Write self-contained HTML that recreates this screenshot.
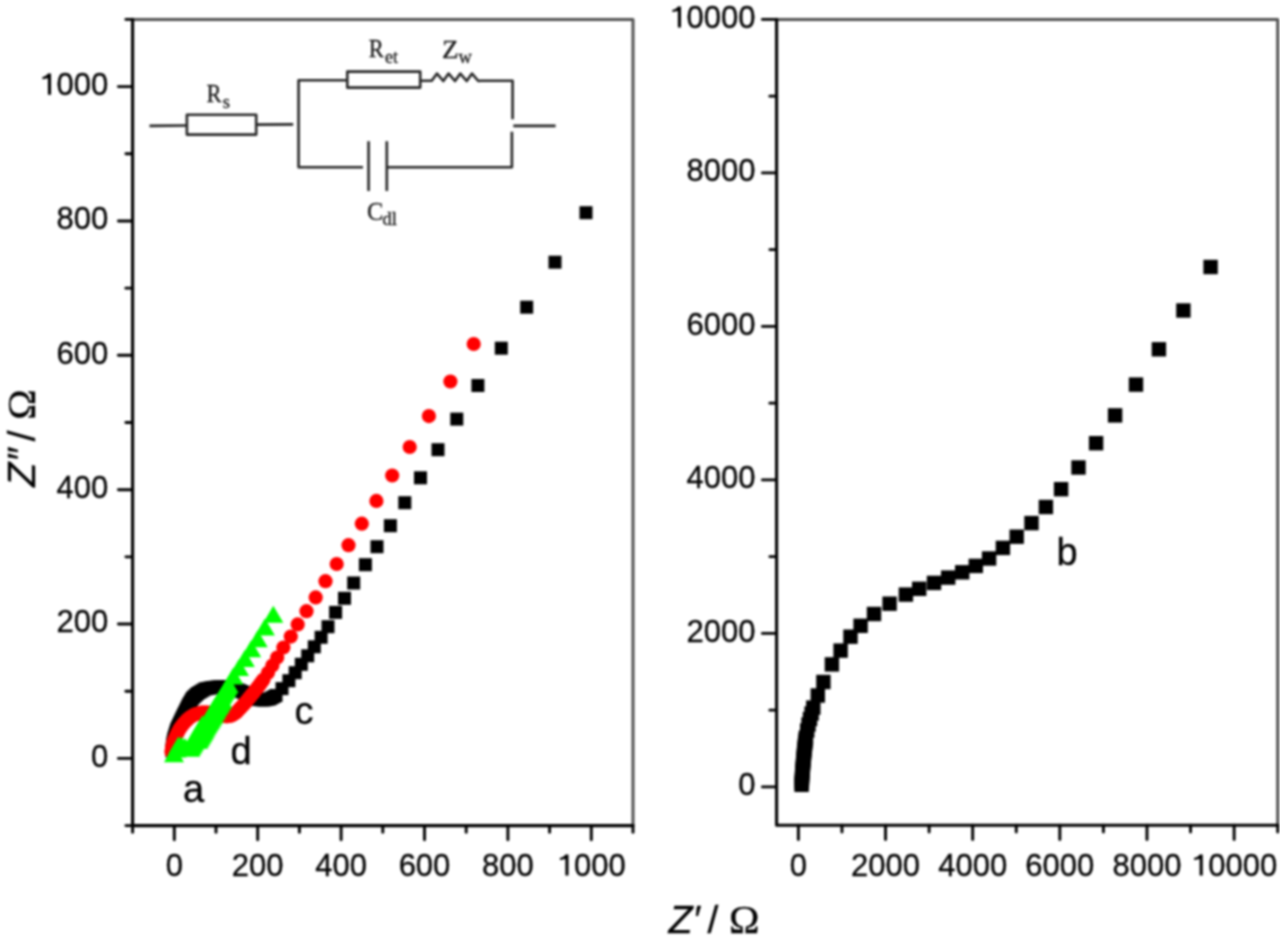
<!DOCTYPE html>
<html><head><meta charset="utf-8"><style>
html,body{margin:0;padding:0;background:#fff;width:1280px;height:944px;overflow:hidden}
svg{display:block;filter:blur(0.8px)}
text{fill:#000;stroke:#000;stroke-width:0.3px}
text.c{fill:#181818;stroke:#181818;stroke-width:0.3px}
</style></head><body>
<svg width="1280" height="944" viewBox="0 0 1280 944">
<rect width="1280" height="944" fill="#fff"/>
<g id="blackL">
<rect x="165.50" y="744.50" width="13.00" height="13.00" fill="#000"/>
<rect x="165.67" y="742.50" width="13.00" height="13.00" fill="#000"/>
<rect x="165.83" y="740.50" width="13.00" height="13.00" fill="#000"/>
<rect x="166.00" y="738.50" width="13.00" height="13.00" fill="#000"/>
<rect x="166.43" y="736.43" width="13.00" height="13.00" fill="#000"/>
<rect x="166.87" y="734.37" width="13.00" height="13.00" fill="#000"/>
<rect x="167.30" y="732.30" width="13.00" height="13.00" fill="#000"/>
<rect x="167.90" y="730.36" width="13.00" height="13.00" fill="#000"/>
<rect x="168.50" y="728.42" width="13.00" height="13.00" fill="#000"/>
<rect x="169.10" y="726.48" width="13.00" height="13.00" fill="#000"/>
<rect x="169.70" y="724.54" width="13.00" height="13.00" fill="#000"/>
<rect x="170.30" y="722.60" width="13.00" height="13.00" fill="#000"/>
<rect x="171.18" y="720.75" width="13.00" height="13.00" fill="#000"/>
<rect x="172.05" y="718.90" width="13.00" height="13.00" fill="#000"/>
<rect x="172.93" y="717.05" width="13.00" height="13.00" fill="#000"/>
<rect x="173.80" y="715.20" width="13.00" height="13.00" fill="#000"/>
<rect x="174.62" y="713.50" width="13.00" height="13.00" fill="#000"/>
<rect x="175.44" y="711.80" width="13.00" height="13.00" fill="#000"/>
<rect x="176.26" y="710.10" width="13.00" height="13.00" fill="#000"/>
<rect x="177.08" y="708.40" width="13.00" height="13.00" fill="#000"/>
<rect x="177.90" y="706.70" width="13.00" height="13.00" fill="#000"/>
<rect x="178.88" y="704.70" width="13.00" height="13.00" fill="#000"/>
<rect x="179.85" y="702.70" width="13.00" height="13.00" fill="#000"/>
<rect x="180.83" y="700.70" width="13.00" height="13.00" fill="#000"/>
<rect x="181.80" y="698.70" width="13.00" height="13.00" fill="#000"/>
<rect x="182.83" y="696.98" width="13.00" height="13.00" fill="#000"/>
<rect x="183.85" y="695.25" width="13.00" height="13.00" fill="#000"/>
<rect x="184.88" y="693.52" width="13.00" height="13.00" fill="#000"/>
<rect x="185.90" y="691.80" width="13.00" height="13.00" fill="#000"/>
<rect x="187.18" y="690.60" width="13.00" height="13.00" fill="#000"/>
<rect x="188.45" y="689.40" width="13.00" height="13.00" fill="#000"/>
<rect x="189.72" y="688.20" width="13.00" height="13.00" fill="#000"/>
<rect x="191.00" y="687.00" width="13.00" height="13.00" fill="#000"/>
<rect x="192.88" y="685.88" width="13.00" height="13.00" fill="#000"/>
<rect x="194.75" y="684.75" width="13.00" height="13.00" fill="#000"/>
<rect x="196.62" y="683.62" width="13.00" height="13.00" fill="#000"/>
<rect x="198.50" y="682.50" width="13.00" height="13.00" fill="#000"/>
<rect x="200.38" y="682.12" width="13.00" height="13.00" fill="#000"/>
<rect x="202.25" y="681.75" width="13.00" height="13.00" fill="#000"/>
<rect x="204.12" y="681.38" width="13.00" height="13.00" fill="#000"/>
<rect x="206.00" y="681.00" width="13.00" height="13.00" fill="#000"/>
<rect x="207.88" y="680.83" width="13.00" height="13.00" fill="#000"/>
<rect x="209.75" y="680.65" width="13.00" height="13.00" fill="#000"/>
<rect x="211.62" y="680.47" width="13.00" height="13.00" fill="#000"/>
<rect x="213.50" y="680.30" width="13.00" height="13.00" fill="#000"/>
<rect x="215.50" y="680.37" width="13.00" height="13.00" fill="#000"/>
<rect x="217.50" y="680.43" width="13.00" height="13.00" fill="#000"/>
<rect x="219.50" y="680.50" width="13.00" height="13.00" fill="#000"/>
<rect x="221.17" y="680.83" width="13.00" height="13.00" fill="#000"/>
<rect x="222.83" y="681.17" width="13.00" height="13.00" fill="#000"/>
<rect x="224.50" y="681.50" width="13.00" height="13.00" fill="#000"/>
<rect x="226.25" y="682.00" width="13.00" height="13.00" fill="#000"/>
<rect x="228.00" y="682.50" width="13.00" height="13.00" fill="#000"/>
<rect x="229.75" y="683.00" width="13.00" height="13.00" fill="#000"/>
<rect x="231.50" y="683.50" width="13.00" height="13.00" fill="#000"/>
<rect x="233.25" y="684.25" width="13.00" height="13.00" fill="#000"/>
<rect x="235.00" y="685.00" width="13.00" height="13.00" fill="#000"/>
<rect x="236.75" y="685.75" width="13.00" height="13.00" fill="#000"/>
<rect x="238.50" y="686.50" width="13.00" height="13.00" fill="#000"/>
<rect x="240.25" y="687.50" width="13.00" height="13.00" fill="#000"/>
<rect x="242.00" y="688.50" width="13.00" height="13.00" fill="#000"/>
<rect x="243.75" y="689.50" width="13.00" height="13.00" fill="#000"/>
<rect x="245.50" y="690.50" width="13.00" height="13.00" fill="#000"/>
<rect x="247.50" y="691.33" width="13.00" height="13.00" fill="#000"/>
<rect x="249.50" y="692.17" width="13.00" height="13.00" fill="#000"/>
<rect x="251.50" y="693.00" width="13.00" height="13.00" fill="#000"/>
<rect x="253.50" y="693.17" width="13.00" height="13.00" fill="#000"/>
<rect x="255.50" y="693.33" width="13.00" height="13.00" fill="#000"/>
<rect x="257.50" y="693.50" width="13.00" height="13.00" fill="#000"/>
<rect x="259.50" y="693.10" width="13.00" height="13.00" fill="#000"/>
<rect x="261.50" y="692.70" width="13.00" height="13.00" fill="#000"/>
<rect x="263.50" y="692.30" width="13.00" height="13.00" fill="#000"/>
<rect x="265.50" y="691.20" width="13.00" height="13.00" fill="#000"/>
<rect x="267.50" y="690.10" width="13.00" height="13.00" fill="#000"/>
<rect x="269.50" y="689.00" width="13.00" height="13.00" fill="#000"/>
<rect x="275.50" y="682.10" width="13.00" height="13.00" fill="#000"/>
<rect x="282.40" y="674.20" width="13.00" height="13.00" fill="#000"/>
<rect x="288.70" y="666.20" width="13.00" height="13.00" fill="#000"/>
<rect x="294.80" y="657.80" width="13.00" height="13.00" fill="#000"/>
<rect x="301.20" y="649.30" width="13.00" height="13.00" fill="#000"/>
<rect x="307.80" y="640.30" width="13.00" height="13.00" fill="#000"/>
<rect x="314.60" y="630.80" width="13.00" height="13.00" fill="#000"/>
<rect x="321.50" y="620.20" width="13.00" height="13.00" fill="#000"/>
<rect x="329.10" y="605.90" width="13.00" height="13.00" fill="#000"/>
<rect x="338.00" y="591.80" width="13.00" height="13.00" fill="#000"/>
<rect x="347.20" y="576.50" width="13.00" height="13.00" fill="#000"/>
<rect x="358.90" y="558.20" width="13.00" height="13.00" fill="#000"/>
<rect x="370.50" y="540.20" width="13.00" height="13.00" fill="#000"/>
<rect x="383.90" y="519.20" width="13.00" height="13.00" fill="#000"/>
<rect x="398.30" y="496.20" width="13.00" height="13.00" fill="#000"/>
<rect x="414.00" y="471.30" width="13.00" height="13.00" fill="#000"/>
<rect x="431.50" y="443.20" width="13.00" height="13.00" fill="#000"/>
<rect x="450.30" y="412.60" width="13.00" height="13.00" fill="#000"/>
<rect x="471.40" y="379.00" width="13.00" height="13.00" fill="#000"/>
<rect x="494.80" y="341.70" width="13.00" height="13.00" fill="#000"/>
<rect x="520.20" y="300.70" width="13.00" height="13.00" fill="#000"/>
<rect x="548.50" y="255.70" width="13.00" height="13.00" fill="#000"/>
<rect x="579.50" y="206.20" width="13.00" height="13.00" fill="#000"/>
</g>
<g id="red">
<circle cx="171.50" cy="752.00" r="7.10" fill="#f00"/>
<circle cx="171.75" cy="750.50" r="7.10" fill="#f00"/>
<circle cx="172.00" cy="749.00" r="7.10" fill="#f00"/>
<circle cx="172.33" cy="747.00" r="7.10" fill="#f00"/>
<circle cx="172.67" cy="745.00" r="7.10" fill="#f00"/>
<circle cx="173.00" cy="743.00" r="7.10" fill="#f00"/>
<circle cx="173.75" cy="741.25" r="7.10" fill="#f00"/>
<circle cx="174.50" cy="739.50" r="7.10" fill="#f00"/>
<circle cx="175.25" cy="737.75" r="7.10" fill="#f00"/>
<circle cx="176.00" cy="736.00" r="7.10" fill="#f00"/>
<circle cx="176.88" cy="734.25" r="7.10" fill="#f00"/>
<circle cx="177.75" cy="732.50" r="7.10" fill="#f00"/>
<circle cx="178.62" cy="730.75" r="7.10" fill="#f00"/>
<circle cx="179.50" cy="729.00" r="7.10" fill="#f00"/>
<circle cx="180.62" cy="727.50" r="7.10" fill="#f00"/>
<circle cx="181.75" cy="726.00" r="7.10" fill="#f00"/>
<circle cx="182.88" cy="724.50" r="7.10" fill="#f00"/>
<circle cx="184.00" cy="723.00" r="7.10" fill="#f00"/>
<circle cx="185.25" cy="721.75" r="7.10" fill="#f00"/>
<circle cx="186.50" cy="720.50" r="7.10" fill="#f00"/>
<circle cx="187.75" cy="719.25" r="7.10" fill="#f00"/>
<circle cx="189.00" cy="718.00" r="7.10" fill="#f00"/>
<circle cx="190.83" cy="716.83" r="7.10" fill="#f00"/>
<circle cx="192.67" cy="715.67" r="7.10" fill="#f00"/>
<circle cx="194.50" cy="714.50" r="7.10" fill="#f00"/>
<circle cx="196.67" cy="713.90" r="7.10" fill="#f00"/>
<circle cx="198.83" cy="713.30" r="7.10" fill="#f00"/>
<circle cx="201.00" cy="712.70" r="7.10" fill="#f00"/>
<circle cx="202.75" cy="712.65" r="7.10" fill="#f00"/>
<circle cx="204.50" cy="712.60" r="7.10" fill="#f00"/>
<circle cx="206.25" cy="712.55" r="7.10" fill="#f00"/>
<circle cx="208.00" cy="712.50" r="7.10" fill="#f00"/>
<circle cx="209.75" cy="712.75" r="7.10" fill="#f00"/>
<circle cx="211.50" cy="713.00" r="7.10" fill="#f00"/>
<circle cx="213.25" cy="713.25" r="7.10" fill="#f00"/>
<circle cx="215.00" cy="713.50" r="7.10" fill="#f00"/>
<circle cx="217.00" cy="714.17" r="7.10" fill="#f00"/>
<circle cx="219.00" cy="714.83" r="7.10" fill="#f00"/>
<circle cx="221.00" cy="715.50" r="7.10" fill="#f00"/>
<circle cx="223.00" cy="715.77" r="7.10" fill="#f00"/>
<circle cx="225.00" cy="716.03" r="7.10" fill="#f00"/>
<circle cx="227.00" cy="716.30" r="7.10" fill="#f00"/>
<circle cx="228.67" cy="715.97" r="7.10" fill="#f00"/>
<circle cx="230.33" cy="715.63" r="7.10" fill="#f00"/>
<circle cx="232.00" cy="715.30" r="7.10" fill="#f00"/>
<circle cx="233.50" cy="714.30" r="7.10" fill="#f00"/>
<circle cx="235.00" cy="713.30" r="7.10" fill="#f00"/>
<circle cx="236.50" cy="712.30" r="7.10" fill="#f00"/>
<circle cx="238.00" cy="710.70" r="7.10" fill="#f00"/>
<circle cx="239.50" cy="709.10" r="7.10" fill="#f00"/>
<circle cx="241.00" cy="707.50" r="7.10" fill="#f00"/>
<circle cx="242.50" cy="705.83" r="7.10" fill="#f00"/>
<circle cx="244.00" cy="704.17" r="7.10" fill="#f00"/>
<circle cx="245.50" cy="702.50" r="7.10" fill="#f00"/>
<circle cx="246.62" cy="701.12" r="7.10" fill="#f00"/>
<circle cx="247.75" cy="699.75" r="7.10" fill="#f00"/>
<circle cx="248.88" cy="698.38" r="7.10" fill="#f00"/>
<circle cx="250.00" cy="697.00" r="7.10" fill="#f00"/>
<circle cx="251.12" cy="695.62" r="7.10" fill="#f00"/>
<circle cx="252.25" cy="694.25" r="7.10" fill="#f00"/>
<circle cx="253.38" cy="692.88" r="7.10" fill="#f00"/>
<circle cx="254.50" cy="691.50" r="7.10" fill="#f00"/>
<circle cx="255.62" cy="690.05" r="7.10" fill="#f00"/>
<circle cx="256.75" cy="688.60" r="7.10" fill="#f00"/>
<circle cx="257.88" cy="687.15" r="7.10" fill="#f00"/>
<circle cx="259.00" cy="685.70" r="7.10" fill="#f00"/>
<circle cx="260.12" cy="684.15" r="7.10" fill="#f00"/>
<circle cx="261.25" cy="682.60" r="7.10" fill="#f00"/>
<circle cx="262.38" cy="681.05" r="7.10" fill="#f00"/>
<circle cx="263.50" cy="679.50" r="7.10" fill="#f00"/>
<circle cx="268.00" cy="672.80" r="7.10" fill="#f00"/>
<circle cx="272.40" cy="665.50" r="7.10" fill="#f00"/>
<circle cx="277.20" cy="657.50" r="7.10" fill="#f00"/>
<circle cx="283.40" cy="647.50" r="7.10" fill="#f00"/>
<circle cx="290.80" cy="636.60" r="7.10" fill="#f00"/>
<circle cx="297.70" cy="624.40" r="7.10" fill="#f00"/>
<circle cx="306.50" cy="611.20" r="7.10" fill="#f00"/>
<circle cx="315.70" cy="597.40" r="7.10" fill="#f00"/>
<circle cx="325.50" cy="581.20" r="7.10" fill="#f00"/>
<circle cx="336.70" cy="564.00" r="7.10" fill="#f00"/>
<circle cx="348.50" cy="545.20" r="7.10" fill="#f00"/>
<circle cx="361.80" cy="523.70" r="7.10" fill="#f00"/>
<circle cx="376.40" cy="500.90" r="7.10" fill="#f00"/>
<circle cx="392.20" cy="475.50" r="7.10" fill="#f00"/>
<circle cx="409.70" cy="447.00" r="7.10" fill="#f00"/>
<circle cx="428.90" cy="416.10" r="7.10" fill="#f00"/>
<circle cx="450.40" cy="381.50" r="7.10" fill="#f00"/>
<circle cx="473.70" cy="344.00" r="7.10" fill="#f00"/>
</g>
<g id="green">
<path d="M198.40,731.80 L208.40,748.80 L188.40,748.80 Z" fill="#0f0"/>
<path d="M199.60,729.80 L209.60,746.80 L189.60,746.80 Z" fill="#0f0"/>
<path d="M200.80,727.80 L210.80,744.80 L190.80,744.80 Z" fill="#0f0"/>
<path d="M202.00,725.80 L212.00,742.80 L192.00,742.80 Z" fill="#0f0"/>
<path d="M203.20,723.80 L213.20,740.80 L193.20,740.80 Z" fill="#0f0"/>
<path d="M204.40,721.65 L214.40,738.65 L194.40,738.65 Z" fill="#0f0"/>
<path d="M205.60,719.50 L215.60,736.50 L195.60,736.50 Z" fill="#0f0"/>
<path d="M206.80,717.35 L216.80,734.35 L196.80,734.35 Z" fill="#0f0"/>
<path d="M208.00,715.20 L218.00,732.20 L198.00,732.20 Z" fill="#0f0"/>
<path d="M209.20,713.30 L219.20,730.30 L199.20,730.30 Z" fill="#0f0"/>
<path d="M210.40,711.40 L220.40,728.40 L200.40,728.40 Z" fill="#0f0"/>
<path d="M211.60,709.50 L221.60,726.50 L201.60,726.50 Z" fill="#0f0"/>
<path d="M212.80,707.60 L222.80,724.60 L202.80,724.60 Z" fill="#0f0"/>
<path d="M213.97,705.45 L223.97,722.45 L203.97,722.45 Z" fill="#0f0"/>
<path d="M215.15,703.30 L225.15,720.30 L205.15,720.30 Z" fill="#0f0"/>
<path d="M216.32,701.15 L226.32,718.15 L206.32,718.15 Z" fill="#0f0"/>
<path d="M217.50,699.00 L227.50,716.00 L207.50,716.00 Z" fill="#0f0"/>
<path d="M218.70,697.10 L228.70,714.10 L208.70,714.10 Z" fill="#0f0"/>
<path d="M219.90,695.20 L229.90,712.20 L209.90,712.20 Z" fill="#0f0"/>
<path d="M221.10,693.30 L231.10,710.30 L211.10,710.30 Z" fill="#0f0"/>
<path d="M222.30,691.40 L232.30,708.40 L212.30,708.40 Z" fill="#0f0"/>
<path d="M193.00,731.80 L203.00,748.80 L183.00,748.80 Z" fill="#0f0"/>
<path d="M194.20,729.80 L204.20,746.80 L184.20,746.80 Z" fill="#0f0"/>
<path d="M195.40,727.80 L205.40,744.80 L185.40,744.80 Z" fill="#0f0"/>
<path d="M196.60,725.80 L206.60,742.80 L186.60,742.80 Z" fill="#0f0"/>
<path d="M197.80,723.80 L207.80,740.80 L187.80,740.80 Z" fill="#0f0"/>
<path d="M199.00,721.65 L209.00,738.65 L189.00,738.65 Z" fill="#0f0"/>
<path d="M200.20,719.50 L210.20,736.50 L190.20,736.50 Z" fill="#0f0"/>
<path d="M201.40,717.35 L211.40,734.35 L191.40,734.35 Z" fill="#0f0"/>
<path d="M202.60,715.20 L212.60,732.20 L192.60,732.20 Z" fill="#0f0"/>
<path d="M174.00,745.20 L184.00,762.20 L164.00,762.20 Z" fill="#0f0"/>
<path d="M176.50,740.50 L186.50,757.50 L166.50,757.50 Z" fill="#0f0"/>
<path d="M178.50,736.50 L188.50,753.50 L168.50,753.50 Z" fill="#0f0"/>
<path d="M181.50,736.50 L191.50,753.50 L171.50,753.50 Z" fill="#0f0"/>
<path d="M185.00,738.00 L195.00,755.00 L175.00,755.00 Z" fill="#0f0"/>
<path d="M190.40,739.80 L200.40,756.80 L180.40,756.80 Z" fill="#0f0"/>
<path d="M191.60,737.80 L201.60,754.80 L181.60,754.80 Z" fill="#0f0"/>
<path d="M192.80,735.80 L202.80,752.80 L182.80,752.80 Z" fill="#0f0"/>
<path d="M194.00,733.80 L204.00,750.80 L184.00,750.80 Z" fill="#0f0"/>
<path d="M195.20,731.80 L205.20,748.80 L185.20,748.80 Z" fill="#0f0"/>
<path d="M196.40,729.80 L206.40,746.80 L186.40,746.80 Z" fill="#0f0"/>
<path d="M197.60,727.80 L207.60,744.80 L187.60,744.80 Z" fill="#0f0"/>
<path d="M198.80,725.80 L208.80,742.80 L188.80,742.80 Z" fill="#0f0"/>
<path d="M200.00,723.80 L210.00,740.80 L190.00,740.80 Z" fill="#0f0"/>
<path d="M201.20,721.65 L211.20,738.65 L191.20,738.65 Z" fill="#0f0"/>
<path d="M202.40,719.50 L212.40,736.50 L192.40,736.50 Z" fill="#0f0"/>
<path d="M203.60,717.35 L213.60,734.35 L193.60,734.35 Z" fill="#0f0"/>
<path d="M204.80,715.20 L214.80,732.20 L194.80,732.20 Z" fill="#0f0"/>
<path d="M206.00,713.30 L216.00,730.30 L196.00,730.30 Z" fill="#0f0"/>
<path d="M207.20,711.40 L217.20,728.40 L197.20,728.40 Z" fill="#0f0"/>
<path d="M208.40,709.50 L218.40,726.50 L198.40,726.50 Z" fill="#0f0"/>
<path d="M209.60,707.60 L219.60,724.60 L199.60,724.60 Z" fill="#0f0"/>
<path d="M210.78,705.45 L220.78,722.45 L200.78,722.45 Z" fill="#0f0"/>
<path d="M211.95,703.30 L221.95,720.30 L201.95,720.30 Z" fill="#0f0"/>
<path d="M213.12,701.15 L223.12,718.15 L203.12,718.15 Z" fill="#0f0"/>
<path d="M214.30,699.00 L224.30,716.00 L204.30,716.00 Z" fill="#0f0"/>
<path d="M215.50,697.10 L225.50,714.10 L205.50,714.10 Z" fill="#0f0"/>
<path d="M216.70,695.20 L226.70,712.20 L206.70,712.20 Z" fill="#0f0"/>
<path d="M217.90,693.30 L227.90,710.30 L207.90,710.30 Z" fill="#0f0"/>
<path d="M219.10,691.40 L229.10,708.40 L209.10,708.40 Z" fill="#0f0"/>
<path d="M220.30,689.50 L230.30,706.50 L210.30,706.50 Z" fill="#0f0"/>
<path d="M221.50,687.60 L231.50,704.60 L211.50,704.60 Z" fill="#0f0"/>
<path d="M222.70,685.70 L232.70,702.70 L212.70,702.70 Z" fill="#0f0"/>
<path d="M223.90,683.80 L233.90,700.80 L213.90,700.80 Z" fill="#0f0"/>
<path d="M225.07,681.88 L235.07,698.88 L215.07,698.88 Z" fill="#0f0"/>
<path d="M226.25,679.95 L236.25,696.95 L216.25,696.95 Z" fill="#0f0"/>
<path d="M227.43,678.02 L237.43,695.02 L217.43,695.02 Z" fill="#0f0"/>
<path d="M228.60,676.10 L238.60,693.10 L218.60,693.10 Z" fill="#0f0"/>
<path d="M233.30,667.50 L243.30,684.50 L223.30,684.50 Z" fill="#0f0"/>
<path d="M239.00,658.90 L249.00,675.90 L229.00,675.90 Z" fill="#0f0"/>
<path d="M244.80,650.10 L254.80,667.10 L234.80,667.10 Z" fill="#0f0"/>
<path d="M251.20,640.20 L261.20,657.20 L241.20,657.20 Z" fill="#0f0"/>
<path d="M257.70,630.20 L267.70,647.20 L247.70,647.20 Z" fill="#0f0"/>
<path d="M264.90,618.50 L274.90,635.50 L254.90,635.50 Z" fill="#0f0"/>
<path d="M273.30,605.80 L283.30,622.80 L263.30,622.80 Z" fill="#0f0"/>
</g>
<g id="blackR">
<rect x="794.40" y="777.60" width="14.40" height="14.40" fill="#000"/>
<rect x="794.52" y="775.64" width="14.40" height="14.40" fill="#000"/>
<rect x="794.64" y="773.68" width="14.40" height="14.40" fill="#000"/>
<rect x="794.76" y="771.72" width="14.40" height="14.40" fill="#000"/>
<rect x="794.88" y="769.76" width="14.40" height="14.40" fill="#000"/>
<rect x="795.00" y="767.80" width="14.40" height="14.40" fill="#000"/>
<rect x="795.16" y="765.80" width="14.40" height="14.40" fill="#000"/>
<rect x="795.32" y="763.80" width="14.40" height="14.40" fill="#000"/>
<rect x="795.48" y="761.80" width="14.40" height="14.40" fill="#000"/>
<rect x="795.64" y="759.80" width="14.40" height="14.40" fill="#000"/>
<rect x="795.80" y="757.80" width="14.40" height="14.40" fill="#000"/>
<rect x="795.98" y="755.80" width="14.40" height="14.40" fill="#000"/>
<rect x="796.16" y="753.80" width="14.40" height="14.40" fill="#000"/>
<rect x="796.34" y="751.80" width="14.40" height="14.40" fill="#000"/>
<rect x="796.52" y="749.80" width="14.40" height="14.40" fill="#000"/>
<rect x="796.70" y="747.80" width="14.40" height="14.40" fill="#000"/>
<rect x="796.90" y="745.90" width="14.40" height="14.40" fill="#000"/>
<rect x="797.10" y="744.00" width="14.40" height="14.40" fill="#000"/>
<rect x="797.30" y="742.10" width="14.40" height="14.40" fill="#000"/>
<rect x="797.50" y="740.20" width="14.40" height="14.40" fill="#000"/>
<rect x="797.70" y="738.30" width="14.40" height="14.40" fill="#000"/>
<rect x="797.97" y="736.30" width="14.40" height="14.40" fill="#000"/>
<rect x="798.25" y="734.30" width="14.40" height="14.40" fill="#000"/>
<rect x="798.52" y="732.30" width="14.40" height="14.40" fill="#000"/>
<rect x="798.80" y="730.30" width="14.40" height="14.40" fill="#000"/>
<rect x="800.00" y="723.30" width="14.40" height="14.40" fill="#000"/>
<rect x="801.30" y="717.30" width="14.40" height="14.40" fill="#000"/>
<rect x="802.80" y="711.80" width="14.40" height="14.40" fill="#000"/>
<rect x="804.40" y="706.30" width="14.40" height="14.40" fill="#000"/>
<rect x="806.10" y="700.40" width="14.40" height="14.40" fill="#000"/>
<rect x="810.60" y="688.30" width="14.40" height="14.40" fill="#000"/>
<rect x="816.20" y="674.80" width="14.40" height="14.40" fill="#000"/>
<rect x="824.70" y="657.20" width="14.40" height="14.40" fill="#000"/>
<rect x="833.40" y="643.40" width="14.40" height="14.40" fill="#000"/>
<rect x="843.30" y="629.50" width="14.40" height="14.40" fill="#000"/>
<rect x="853.40" y="618.60" width="14.40" height="14.40" fill="#000"/>
<rect x="866.80" y="606.80" width="14.40" height="14.40" fill="#000"/>
<rect x="882.40" y="596.50" width="14.40" height="14.40" fill="#000"/>
<rect x="898.70" y="587.40" width="14.40" height="14.40" fill="#000"/>
<rect x="912.00" y="581.60" width="14.40" height="14.40" fill="#000"/>
<rect x="926.80" y="575.70" width="14.40" height="14.40" fill="#000"/>
<rect x="941.00" y="570.40" width="14.40" height="14.40" fill="#000"/>
<rect x="955.00" y="565.10" width="14.40" height="14.40" fill="#000"/>
<rect x="968.60" y="558.70" width="14.40" height="14.40" fill="#000"/>
<rect x="981.90" y="551.30" width="14.40" height="14.40" fill="#000"/>
<rect x="995.70" y="540.70" width="14.40" height="14.40" fill="#000"/>
<rect x="1009.50" y="529.50" width="14.40" height="14.40" fill="#000"/>
<rect x="1024.30" y="515.90" width="14.40" height="14.40" fill="#000"/>
<rect x="1038.70" y="499.80" width="14.40" height="14.40" fill="#000"/>
<rect x="1053.90" y="482.00" width="14.40" height="14.40" fill="#000"/>
<rect x="1071.30" y="460.30" width="14.40" height="14.40" fill="#000"/>
<rect x="1088.90" y="436.00" width="14.40" height="14.40" fill="#000"/>
<rect x="1107.90" y="408.20" width="14.40" height="14.40" fill="#000"/>
<rect x="1128.80" y="377.40" width="14.40" height="14.40" fill="#000"/>
<rect x="1151.70" y="342.10" width="14.40" height="14.40" fill="#000"/>
<rect x="1176.20" y="303.30" width="14.40" height="14.40" fill="#000"/>
<rect x="1203.40" y="259.80" width="14.40" height="14.40" fill="#000"/>
</g>
<path d="M132.60,19.40 L633.00,19.40 L633.00,825.60" fill="none" stroke="#525252" stroke-width="3.0" stroke-linejoin="round" stroke-linecap="butt"/>
<path d="M132.60,19.40 L132.60,825.60 L633.00,825.60" fill="none" stroke="#000" stroke-width="3.1" stroke-linejoin="round" stroke-linecap="round"/>
<line x1="132.60" y1="825.60" x2="132.60" y2="832.30" stroke="#000" stroke-width="2.9" stroke-linecap="round"/>
<line x1="174.30" y1="825.60" x2="174.30" y2="839.80" stroke="#000" stroke-width="2.9" stroke-linecap="round"/>
<line x1="216.00" y1="825.60" x2="216.00" y2="832.30" stroke="#000" stroke-width="2.9" stroke-linecap="round"/>
<line x1="257.70" y1="825.60" x2="257.70" y2="839.80" stroke="#000" stroke-width="2.9" stroke-linecap="round"/>
<line x1="299.40" y1="825.60" x2="299.40" y2="832.30" stroke="#000" stroke-width="2.9" stroke-linecap="round"/>
<line x1="341.10" y1="825.60" x2="341.10" y2="839.80" stroke="#000" stroke-width="2.9" stroke-linecap="round"/>
<line x1="382.80" y1="825.60" x2="382.80" y2="832.30" stroke="#000" stroke-width="2.9" stroke-linecap="round"/>
<line x1="424.50" y1="825.60" x2="424.50" y2="839.80" stroke="#000" stroke-width="2.9" stroke-linecap="round"/>
<line x1="466.20" y1="825.60" x2="466.20" y2="832.30" stroke="#000" stroke-width="2.9" stroke-linecap="round"/>
<line x1="507.90" y1="825.60" x2="507.90" y2="839.80" stroke="#000" stroke-width="2.9" stroke-linecap="round"/>
<line x1="549.60" y1="825.60" x2="549.60" y2="832.30" stroke="#000" stroke-width="2.9" stroke-linecap="round"/>
<line x1="591.30" y1="825.60" x2="591.30" y2="839.80" stroke="#000" stroke-width="2.9" stroke-linecap="round"/>
<line x1="633.00" y1="825.60" x2="633.00" y2="832.30" stroke="#000" stroke-width="2.9" stroke-linecap="round"/>
<line x1="132.60" y1="825.60" x2="125.90" y2="825.60" stroke="#000" stroke-width="2.9" stroke-linecap="round"/>
<line x1="132.60" y1="758.42" x2="118.40" y2="758.42" stroke="#000" stroke-width="2.9" stroke-linecap="round"/>
<line x1="132.60" y1="691.23" x2="125.90" y2="691.23" stroke="#000" stroke-width="2.9" stroke-linecap="round"/>
<line x1="132.60" y1="624.05" x2="118.40" y2="624.05" stroke="#000" stroke-width="2.9" stroke-linecap="round"/>
<line x1="132.60" y1="556.87" x2="125.90" y2="556.87" stroke="#000" stroke-width="2.9" stroke-linecap="round"/>
<line x1="132.60" y1="489.68" x2="118.40" y2="489.68" stroke="#000" stroke-width="2.9" stroke-linecap="round"/>
<line x1="132.60" y1="422.50" x2="125.90" y2="422.50" stroke="#000" stroke-width="2.9" stroke-linecap="round"/>
<line x1="132.60" y1="355.32" x2="118.40" y2="355.32" stroke="#000" stroke-width="2.9" stroke-linecap="round"/>
<line x1="132.60" y1="288.13" x2="125.90" y2="288.13" stroke="#000" stroke-width="2.9" stroke-linecap="round"/>
<line x1="132.60" y1="220.95" x2="118.40" y2="220.95" stroke="#000" stroke-width="2.9" stroke-linecap="round"/>
<line x1="132.60" y1="153.77" x2="125.90" y2="153.77" stroke="#000" stroke-width="2.9" stroke-linecap="round"/>
<line x1="132.60" y1="86.58" x2="118.40" y2="86.58" stroke="#000" stroke-width="2.9" stroke-linecap="round"/>
<line x1="132.60" y1="19.40" x2="125.90" y2="19.40" stroke="#000" stroke-width="2.9" stroke-linecap="round"/>
<path d="M776.60,19.40 L1277.70,19.40 L1277.70,825.30" fill="none" stroke="#525252" stroke-width="3.0" stroke-linejoin="round" stroke-linecap="butt"/>
<path d="M776.60,19.40 L776.60,825.30 L1277.70,825.30" fill="none" stroke="#000" stroke-width="3.1" stroke-linejoin="round" stroke-linecap="round"/>
<line x1="798.39" y1="825.30" x2="798.39" y2="839.50" stroke="#000" stroke-width="2.9" stroke-linecap="round"/>
<line x1="841.96" y1="825.30" x2="841.96" y2="832.00" stroke="#000" stroke-width="2.9" stroke-linecap="round"/>
<line x1="885.53" y1="825.30" x2="885.53" y2="839.50" stroke="#000" stroke-width="2.9" stroke-linecap="round"/>
<line x1="929.11" y1="825.30" x2="929.11" y2="832.00" stroke="#000" stroke-width="2.9" stroke-linecap="round"/>
<line x1="972.68" y1="825.30" x2="972.68" y2="839.50" stroke="#000" stroke-width="2.9" stroke-linecap="round"/>
<line x1="1016.26" y1="825.30" x2="1016.26" y2="832.00" stroke="#000" stroke-width="2.9" stroke-linecap="round"/>
<line x1="1059.83" y1="825.30" x2="1059.83" y2="839.50" stroke="#000" stroke-width="2.9" stroke-linecap="round"/>
<line x1="1103.40" y1="825.30" x2="1103.40" y2="832.00" stroke="#000" stroke-width="2.9" stroke-linecap="round"/>
<line x1="1146.98" y1="825.30" x2="1146.98" y2="839.50" stroke="#000" stroke-width="2.9" stroke-linecap="round"/>
<line x1="1190.55" y1="825.30" x2="1190.55" y2="832.00" stroke="#000" stroke-width="2.9" stroke-linecap="round"/>
<line x1="1234.13" y1="825.30" x2="1234.13" y2="839.50" stroke="#000" stroke-width="2.9" stroke-linecap="round"/>
<line x1="1277.70" y1="825.30" x2="1277.70" y2="832.00" stroke="#000" stroke-width="2.9" stroke-linecap="round"/>
<line x1="776.60" y1="786.92" x2="762.40" y2="786.92" stroke="#000" stroke-width="2.9" stroke-linecap="round"/>
<line x1="776.60" y1="710.17" x2="769.90" y2="710.17" stroke="#000" stroke-width="2.9" stroke-linecap="round"/>
<line x1="776.60" y1="633.42" x2="762.40" y2="633.42" stroke="#000" stroke-width="2.9" stroke-linecap="round"/>
<line x1="776.60" y1="556.67" x2="769.90" y2="556.67" stroke="#000" stroke-width="2.9" stroke-linecap="round"/>
<line x1="776.60" y1="479.91" x2="762.40" y2="479.91" stroke="#000" stroke-width="2.9" stroke-linecap="round"/>
<line x1="776.60" y1="403.16" x2="769.90" y2="403.16" stroke="#000" stroke-width="2.9" stroke-linecap="round"/>
<line x1="776.60" y1="326.41" x2="762.40" y2="326.41" stroke="#000" stroke-width="2.9" stroke-linecap="round"/>
<line x1="776.60" y1="249.66" x2="769.90" y2="249.66" stroke="#000" stroke-width="2.9" stroke-linecap="round"/>
<line x1="776.60" y1="172.90" x2="762.40" y2="172.90" stroke="#000" stroke-width="2.9" stroke-linecap="round"/>
<line x1="776.60" y1="96.15" x2="769.90" y2="96.15" stroke="#000" stroke-width="2.9" stroke-linecap="round"/>
<line x1="776.60" y1="19.40" x2="762.40" y2="19.40" stroke="#000" stroke-width="2.9" stroke-linecap="round"/>
<text x="165.68" y="875.60" font-family="Liberation Sans" font-size="31">0</text>
<text x="231.84" y="875.60" font-family="Liberation Sans" font-size="31">200</text>
<text x="315.24" y="875.60" font-family="Liberation Sans" font-size="31">400</text>
<text x="398.64" y="875.60" font-family="Liberation Sans" font-size="31">600</text>
<text x="482.04" y="875.60" font-family="Liberation Sans" font-size="31">800</text>
<path d="M565.42,854.40 L568.52,854.40 L568.52,875.60 L565.42,875.60 L565.42,859.00 C563.62,859.40 561.82,859.80 559.92,860.00 L559.82,858.00 C562.22,857.40 564.42,856.00 565.42,854.40 Z" fill="#000"/>
<text x="574.06" y="875.60" font-family="Liberation Sans" font-size="31">000</text>
<text x="91.06" y="766.62" font-family="Liberation Sans" font-size="31">0</text>
<text x="56.58" y="632.25" font-family="Liberation Sans" font-size="31">200</text>
<text x="56.58" y="497.88" font-family="Liberation Sans" font-size="31">400</text>
<text x="56.58" y="363.52" font-family="Liberation Sans" font-size="31">600</text>
<text x="56.58" y="229.15" font-family="Liberation Sans" font-size="31">800</text>
<path d="M47.94,73.58 L51.04,73.58 L51.04,94.78 L47.94,94.78 L47.94,78.18 C46.14,78.58 44.34,78.98 42.44,79.18 L42.34,77.18 C44.74,76.58 46.94,75.18 47.94,73.58 Z" fill="#000"/>
<text x="56.58" y="94.78" font-family="Liberation Sans" font-size="31">000</text>
<text x="789.77" y="875.60" font-family="Liberation Sans" font-size="31">0</text>
<text x="851.06" y="875.60" font-family="Liberation Sans" font-size="31">2000</text>
<text x="938.20" y="875.60" font-family="Liberation Sans" font-size="31">4000</text>
<text x="1025.35" y="875.60" font-family="Liberation Sans" font-size="31">6000</text>
<text x="1112.50" y="875.60" font-family="Liberation Sans" font-size="31">8000</text>
<path d="M1199.63,854.40 L1202.73,854.40 L1202.73,875.60 L1199.63,875.60 L1199.63,859.00 C1197.83,859.40 1196.03,859.80 1194.13,860.00 L1194.03,858.00 C1196.43,857.40 1198.63,856.00 1199.63,854.40 Z" fill="#000"/>
<text x="1208.27" y="875.60" font-family="Liberation Sans" font-size="31">0000</text>
<text x="738.26" y="795.12" font-family="Liberation Sans" font-size="31">0</text>
<text x="686.54" y="641.62" font-family="Liberation Sans" font-size="31">2000</text>
<text x="686.54" y="488.11" font-family="Liberation Sans" font-size="31">4000</text>
<text x="686.54" y="334.61" font-family="Liberation Sans" font-size="31">6000</text>
<text x="686.54" y="181.10" font-family="Liberation Sans" font-size="31">8000</text>
<path d="M677.90,6.40 L681.00,6.40 L681.00,27.60 L677.90,27.60 L677.90,11.00 C676.10,11.40 674.30,11.80 672.40,12.00 L672.30,10.00 C674.70,9.40 676.90,8.00 677.90,6.40 Z" fill="#000"/>
<text x="686.54" y="27.60" font-family="Liberation Sans" font-size="31">0000</text>
<g font-family="Liberation Sans" font-size="39">
<text x="668.5" y="932.5" font-style="italic" font-size="39.5">Z</text>
<text x="692.6" y="932.5" font-style="italic">′</text>
<text x="707.5" y="932.5">/</text>
<text x="729" y="932.5" font-family="Liberation Serif" font-size="41">Ω</text>
<g transform="translate(34.5,0) rotate(-90)">
<text x="-486.7" y="0" font-style="italic" font-size="39.5">Z</text>
<text x="-462.1" y="0" font-style="italic">″</text>
<text x="-441.2" y="0">/</text>
<text x="-419.8" y="0" font-family="Liberation Serif" font-size="41">Ω</text>
</g></g>
<text x="183" y="801.5" font-family="Liberation Sans" font-size="38">a</text>
<text x="230.5" y="763.5" font-family="Liberation Sans" font-size="38">d</text>
<text x="294.5" y="723.5" font-family="Liberation Sans" font-size="38">c</text>
<text x="1056.5" y="565" font-family="Liberation Sans" font-size="38">b</text>
<path d="M149.5,125.9 L186.9,125.5" fill="none" stroke="#262626" stroke-width="2.6" stroke-linejoin="round" stroke-linecap="butt"/>
<path d="M186.9,114.8 L256.2,114.8 L256.2,134.6 L186.9,134.6 Z" fill="none" stroke="#262626" stroke-width="2.6" stroke-linejoin="round" stroke-linecap="butt"/>
<path d="M256.2,124.6 L293.2,124.4" fill="none" stroke="#262626" stroke-width="2.6" stroke-linejoin="round" stroke-linecap="butt"/>
<path d="M347.3,80.3 L298.6,80.3 L298.6,167.3 L363.0,167.3" fill="none" stroke="#262626" stroke-width="2.6" stroke-linejoin="round" stroke-linecap="butt"/>
<path d="M347.3,71.6 L420.2,71.6 L420.2,87.6 L347.3,87.6 Z" fill="none" stroke="#262626" stroke-width="2.6" stroke-linejoin="round" stroke-linecap="butt"/>
<path d="M420.2,80.8 L431.7,80.8 L437.0,73.6 L443.3,81.0 L448.6,73.6 L455.0,81.0 L460.3,73.6 L466.7,81.0 L472.0,73.6 L478.3,81.0 L480.8,80.8 L512.6,80.8 L512.6,119.2" fill="none" stroke="#262626" stroke-width="2.6" stroke-linejoin="round" stroke-linecap="butt"/>
<path d="M511.9,131.7 L511.9,167.3 L386.8,167.3" fill="none" stroke="#262626" stroke-width="2.6" stroke-linejoin="round" stroke-linecap="butt"/>
<path d="M368.6,141.2 L368.6,191.0" fill="none" stroke="#262626" stroke-width="2.6" stroke-linejoin="round" stroke-linecap="butt"/>
<path d="M386.8,141.2 L386.8,191.0" fill="none" stroke="#262626" stroke-width="2.6" stroke-linejoin="round" stroke-linecap="butt"/>
<path d="M513.3,125.9 L555.6,125.9" fill="none" stroke="#262626" stroke-width="2.6" stroke-linejoin="round" stroke-linecap="butt"/>
<text class="c" transform="translate(206.4,101.5) scale(0.92,1)" font-family="Liberation Serif" fill="#262626" font-size="24.5">R</text>
<text class="c" transform="translate(222.8,107.8) scale(1.0,1)" font-family="Liberation Serif" fill="#262626" font-size="18.5">s</text>
<text class="c" transform="translate(368.8,56.5) scale(0.92,1)" font-family="Liberation Serif" fill="#262626" font-size="24.5">R</text>
<text class="c" transform="translate(385.0,63.2) scale(0.98,1)" font-family="Liberation Serif" fill="#262626" font-size="18.5">et</text>
<text class="c" transform="translate(441.9,57.8) scale(1.11,1)" font-family="Liberation Serif" fill="#262626" font-size="24.5">Z</text>
<text class="c" transform="translate(458.5,63.4) scale(1.0,1)" font-family="Liberation Serif" fill="#262626" font-size="18.5">w</text>
<text class="c" transform="translate(367,220.3) scale(1.0,1)" font-family="Liberation Serif" fill="#262626" font-size="24.5">C</text>
<text class="c" transform="translate(382.5,225.2) scale(1.0,1)" font-family="Liberation Serif" fill="#262626" font-size="18.5">dl</text>
</svg>
</body></html>
